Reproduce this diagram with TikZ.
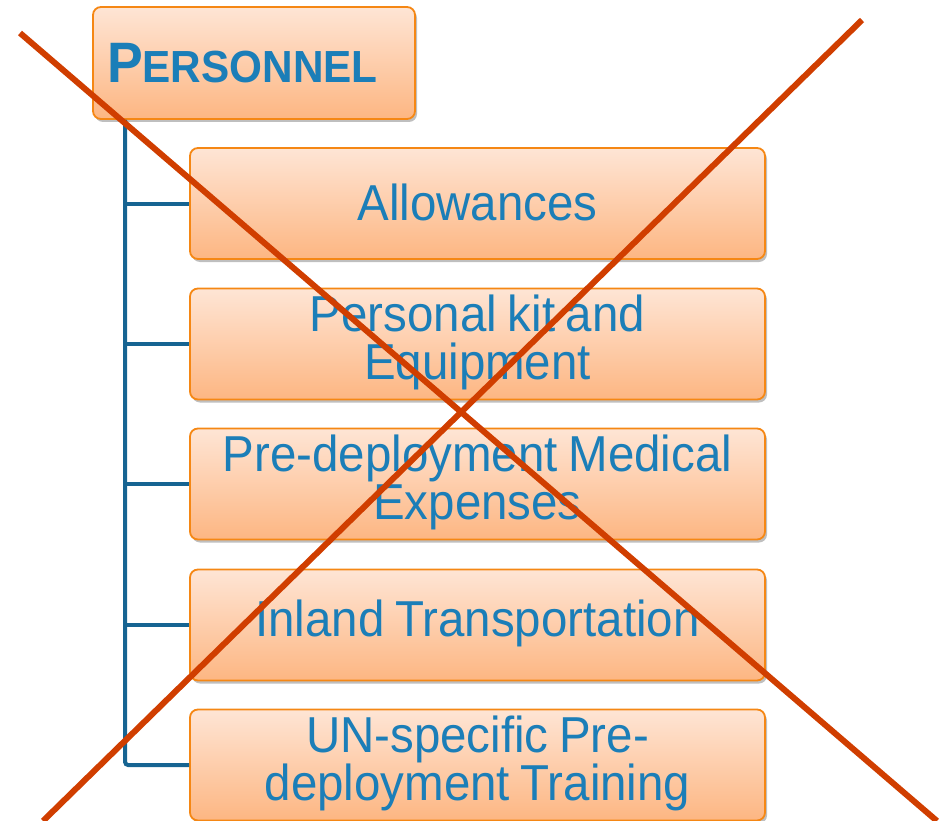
\documentclass[tikz,border=0pt]{standalone}
\usepackage{fontspec}
\setmainfont[FakeStretch=0.94,WordSpace=0.8]{Liberation Sans}
\usetikzlibrary{shadows}
\definecolor{txtblue}{RGB}{27,126,184}
\definecolor{linblue}{RGB}{22,100,146}
\definecolor{boxedge}{RGB}{245,135,20}
\definecolor{boxtop}{RGB}{254,229,213}
\definecolor{boxbot}{RGB}{253,182,130}
\definecolor{crossred}{RGB}{208,62,0}
\newcommand{\boxtext}[1]{\parbox[c][92pt][c]{560pt}{\centering #1\par\vspace{3pt}}}
\tikzset{
  box/.style={rectangle, rounded corners=8pt, draw=boxedge, line width=1.8pt,
    top color=boxtop, bottom color=boxbot, text=txtblue,
    drop shadow={shadow xshift=2pt, shadow yshift=-3pt, opacity=0.25, fill=black}},
  childbox/.style={box, minimum width=575pt, minimum height=111pt, inner sep=0pt,
    font=\fontsize{50.5}{48.5}\selectfont},
  trunk/.style={draw=linblue, line width=4pt},
  cross/.style={draw=crossred, line width=6pt}
}
\begin{document}
\begin{tikzpicture}[x=1pt,y=-1pt]
\useasboundingbox (0,0) rectangle (939,821);
\node[box, minimum height=112pt, text width=294pt, inner xsep=14pt, align=left] (p) at (254,63)
  {\bfseries{\fontsize{57}{57}\selectfont P}{\fontsize{45}{45}\selectfont ERSONNEL}};
\node[childbox] (c1) at (477.5,203.5) {\boxtext{Allowances}};
\node[childbox] (c2) at (477.5,344) {\boxtext{Personal kit and\\Equipment}};
\node[childbox] (c3) at (477.5,484) {\boxtext{Pre-deployment Medical\\Expenses}};
\node[childbox] (c4) at (477.5,625) {\boxtext{Inland Transportation}};
\node[childbox] (c5) at (477.5,765) {\boxtext{UN-specific Pre-\\deployment Training}};
\draw[trunk] ([xshift=33pt]p.south west) |- (c1.west);
\draw[trunk] ([xshift=33pt]p.south west) |- (c2.west);
\draw[trunk] ([xshift=33pt]p.south west) |- (c3.west);
\draw[trunk] ([xshift=33pt]p.south west) |- (c4.west);
\draw[trunk, rounded corners=3pt] ([xshift=33pt]p.south west) |- (c5.west);
\coordinate (x1a) at (20,33);
\coordinate (x1b) at (937,821);
\coordinate (x2a) at (862,20);
\coordinate (x2b) at (43,821);
\draw[cross] (x1a) -- (x1b);
\draw[cross] (x2a) -- (x2b);
\end{tikzpicture}
\end{document}
